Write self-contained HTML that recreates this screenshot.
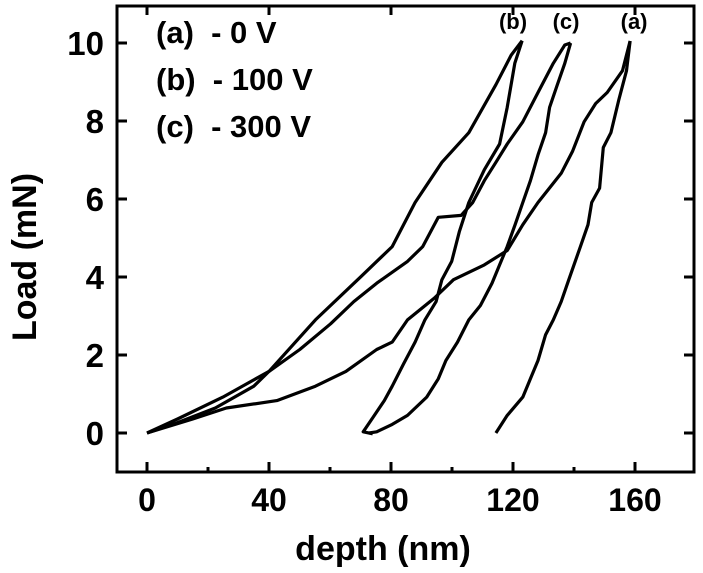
<!DOCTYPE html>
<html><head><meta charset="utf-8"><style>
html,body{margin:0;padding:0;background:#fff;}
svg{display:block;font-family:"Liberation Sans",Arial,sans-serif;font-weight:bold;}
</style></head><body>
<svg id="chart" width="703" height="573" viewBox="0 0 703 573" xmlns="http://www.w3.org/2000/svg">
<rect x="117" y="6" width="577" height="466" fill="none" stroke="#000" stroke-width="3"/>
<g id="ticks"></g>
<g id="series"></g>
<text x="383" y="560" font-size="34" text-anchor="middle">depth (nm)</text>
<text transform="translate(36,257) rotate(-90)" font-size="34" text-anchor="middle">Load (mN)</text>
<g font-size="31" style="white-space:pre">
<text x="156" y="43" xml:space="preserve">(a)  - 0 V</text>
<text x="156" y="90" xml:space="preserve">(b)  - 100 V</text>
<text x="156" y="137" xml:space="preserve">(c)  - 300 V</text>
</g>
</svg>
<script>
const xTicks=[0,40,80,120,160];
const xMinor=[20,60,100,140];
const yTicks=[0,2,4,6,8,10];
const aLoadX=[0,15,26,42.6,55.2,65.2,75.3,80.4,85.4,94.2,100.5,110.6,118.1,123.2,128.2,135.8,139.5,143.3,147.1,150.9,155.9,158.4];
const aLoadY=[0,0.36,0.64,0.83,1.2,1.58,2.14,2.33,2.9,3.46,3.93,4.31,4.68,5.34,5.91,6.66,7.22,7.98,8.45,8.73,9.29,10.05];
const aUnX=[158.4,157.2,154.7,152.1,149.6,148.4,145.8,144.6,142.1,138.3,135.8,133.2,130.7,128.2,125.7,123.2,118.1,114.4];
const aUnY=[10.05,9.29,8.54,7.7,7.32,6.28,5.91,5.34,4.78,3.93,3.37,2.9,2.52,1.86,1.39,0.92,0.45,0];
const bLoadX=[0,10,24.9,40,55.2,70.3,80.4,87.9,96.7,105.5,114.4,119.4,123];
const bLoadY=[0,0.36,0.92,1.58,2.9,4.02,4.78,5.91,6.94,7.7,8.93,9.69,10.06];
const bUnX=[123,120.6,118.1,115.6,110.6,105.5,102.4,99.9,96.7,94.8,91.1,87.9,84.1,80.4,77.8,74.1,70.9,74];
const bUnY=[10.06,9.48,8.35,7.41,6.75,5.91,5.16,4.4,3.93,3.37,2.9,2.33,1.77,1.2,0.83,0.4,0.03,-0.02];
const cLoadX=[0,9.8,22.4,35,40,50.1,60.2,67.8,75.3,85.4,90.4,95.5,103,106.8,110.6,114.4,118.1,123.2,128.2,133.2,137,138.9];
const cLoadY=[0,0.26,0.64,1.2,1.58,2.14,2.8,3.37,3.84,4.4,4.78,5.53,5.58,5.91,6.47,6.94,7.41,7.98,8.73,9.48,9.95,10];
const cUnX=[138.9,137,134.5,132,130.7,128.2,125.7,123.2,120.7,118.1,115.6,113.1,109.3,105.5,101.8,98,95.5,91.7,85.4,80.4,75.3,72.8];
const cUnY=[10,9.48,8.92,8.35,7.7,7.13,6.47,5.91,5.34,4.78,4.31,3.84,3.27,2.9,2.33,1.86,1.39,0.92,0.45,0.22,0.03,0];
const curveLabels=["(b)","(c)","(a)"];
const curveLabelX=[120,137.4,159.7];

const NS="http://www.w3.org/2000/svg";
function sx(v){return 147+v*3.05;}
function sy(v){return 433-v*39;}
function mk(tag,attrs,parent){const e=document.createElementNS(NS,tag);for(const k in attrs)e.setAttribute(k,attrs[k]);parent.appendChild(e);return e;}
const tg=document.getElementById('ticks');
xTicks.forEach(v=>{
  const t=mk('line',{x1:sx(v),x2:sx(v),y1:472,y2:462,stroke:'#000','stroke-width':3},tg);
  
  
  const t2=mk('line',{x1:sx(v),x2:sx(v),y1:6,y2:15,stroke:'#000','stroke-width':3},tg);
  
  
  const l=mk('text',{x:sx(v),y:511,'font-size':32,'text-anchor':'middle'},tg);
  l.textContent=v;
  
  
});
xMinor.forEach(v=>{
  const t=mk('line',{x1:sx(v),x2:sx(v),y1:472,y2:467,stroke:'#000','stroke-width':3},tg);
  
  
});
yTicks.forEach(v=>{
  const t=mk('line',{x1:117,x2:127,y1:sy(v),y2:sy(v),stroke:'#000','stroke-width':3},tg);
  
  
  const t2=mk('line',{x1:684,x2:694,y1:sy(v),y2:sy(v),stroke:'#000','stroke-width':3},tg);
  
  
  const l=mk('text',{x:104,y:sy(v)+12,'font-size':33,'text-anchor':'end'},tg);
  l.textContent=v;
  
  
});
const sg=document.getElementById('series');
const curves=[['curve-a-loading',aLoadX,aLoadY],['curve-a-unloading',aUnX,aUnY],['curve-b-loading',bLoadX,bLoadY],['curve-b-unloading',bUnX,bUnY],['curve-c-loading',cLoadX,cLoadY],['curve-c-unloading',cUnX,cUnY]];
curves.forEach(c=>{
  const d=c[1].map((x,i)=>(i?'L':'M')+sx(x).toFixed(1)+','+sy(c[2][i]).toFixed(1)).join(' ');
  const p=mk('path',{d:d,fill:'none',stroke:'#000','stroke-width':3.2,'stroke-linejoin':'round'},sg);
  
  
});
curveLabels.forEach((s,i)=>{
  const t=mk('text',{x:sx(curveLabelX[i]),y:29,'font-size':22,'text-anchor':'middle'},sg);
  t.textContent=s;
  
  
});
</script>
</body></html>
